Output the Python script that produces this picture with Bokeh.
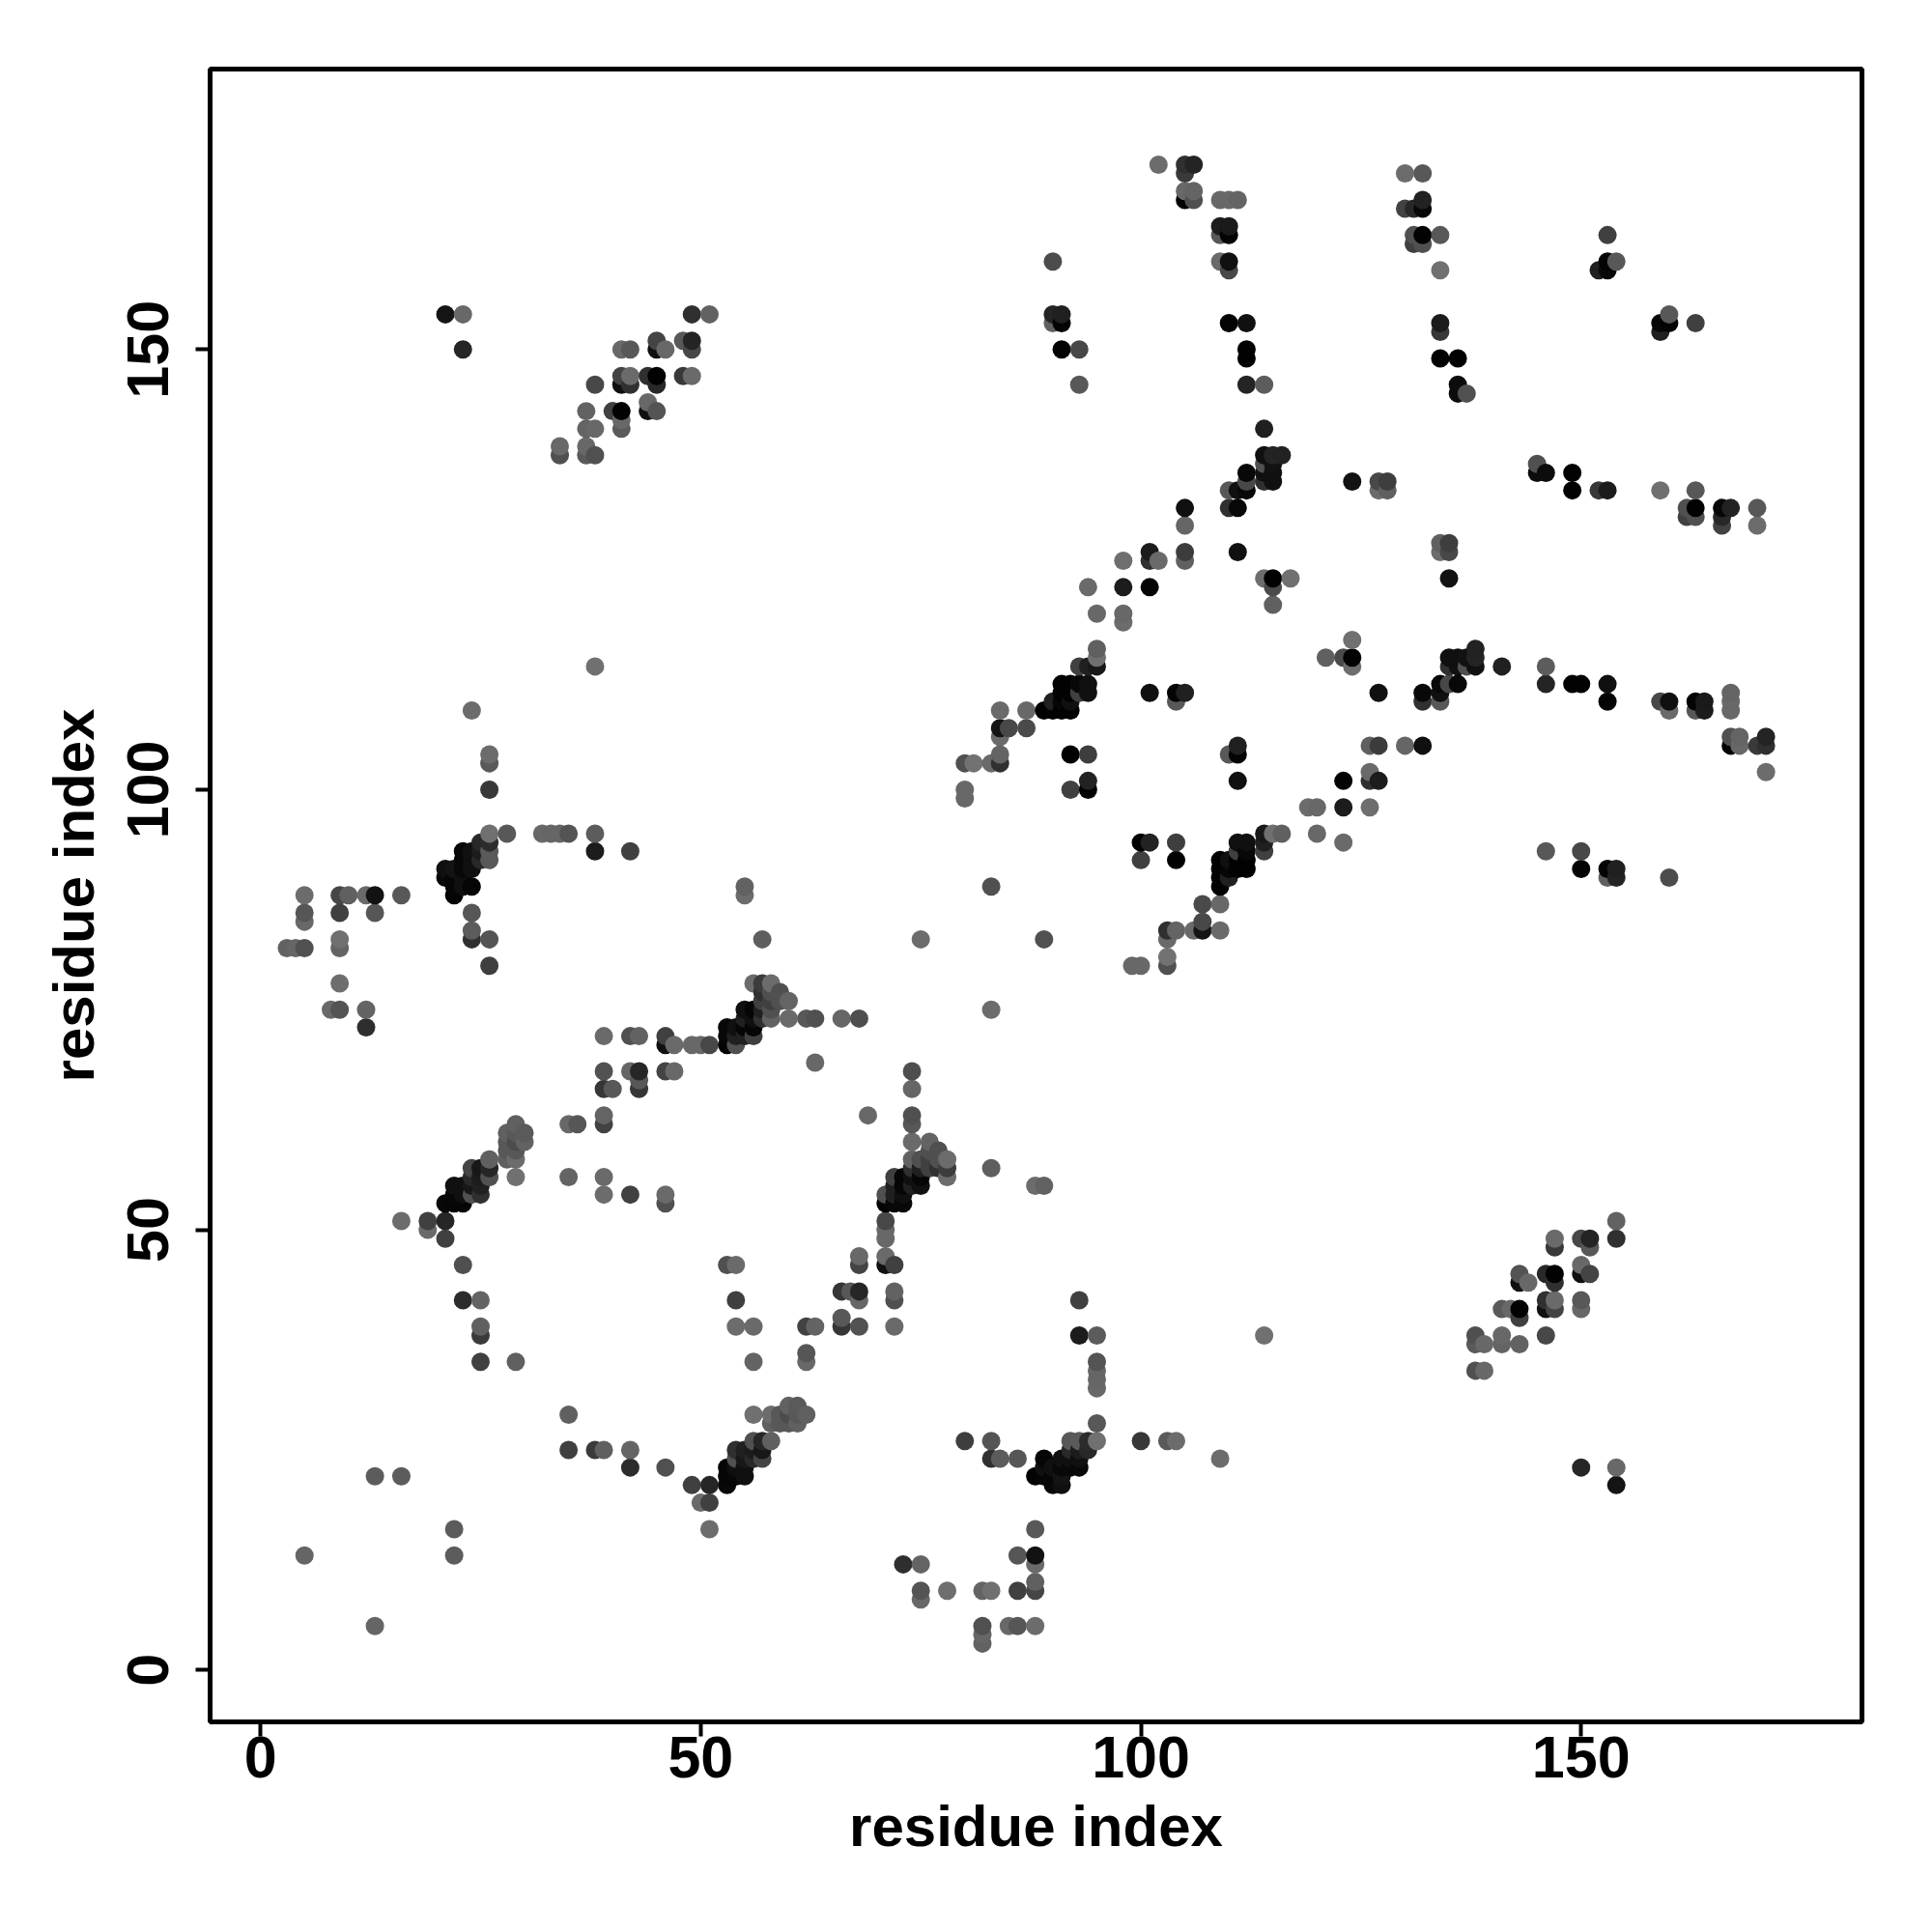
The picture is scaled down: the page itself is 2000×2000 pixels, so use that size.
from bokeh.plotting import figure
from bokeh.embed import file_html
from bokeh.resources import INLINE
from bokeh.models import Range1d, FixedTicker, ColumnDataSource

# residue contacts: residue -> (partner residue, grey level of the contact)
c03=[(82,0x62)]
c04=[(82,0x66)]
c05=[(13,0x65),(82,0x50),(85,0x68),(86,0x56),(88,0x6c)]
c08=[(75,0x68)]
c09=[(75,0x54),(78,0x6e),(82,0x64),(83,0x70),(86,0x40),(88,0x46)]
c10=[(88,0x60)]
c12=[(73,0x2e),(75,0x64),(88,0x6a)]
c13=[(22,0x5c),(86,0x56),(88,0x12)]
c16=[(22,0x5c),(51,0x6c),(88,0x58)]
c19=[(50,0x6a),(51,0x40)]
c21=[(49,0x40),(51,0x26),(53,0x08),(90,0x08),(91,0x10),(154,0x14)]
c22=[(53,0x06),(54,0x08),(55,0x10),(88,0x04),(89,0x06),(90,0x06),(91,0x14)]
c23=[(42,0x2c),(46,0x50),(53,0x06),(54,0x10),(55,0x10),(89,0x10),(90,0x10),(91,0x08),(92,0x08),(93,0x08),(150,0x26),(154,0x68)]
c24=[(54,0x50),(55,0x18),(56,0x28),(57,0x44),(83,0x30),(84,0x5c),(86,0x56),(89,0x06),(91,0x10),(92,0x10),(93,0x10),(109,0x6c)]
c25=[(35,0x40),(38,0x3a),(39,0x60),(42,0x64),(54,0x30),(55,0x20),(56,0x1c),(57,0x18),(92,0x28),(93,0x1c),(94,0x28)]
c26=[(56,0x50),(57,0x26),(58,0x60),(80,0x3e),(83,0x54),(92,0x58),(93,0x5a),(94,0x2c),(95,0x70),(100,0x38),(103,0x5a),(104,0x6c)]
c28=[(58,0x60),(59,0x58),(60,0x58),(61,0x60),(95,0x58)]
c29=[(35,0x60),(56,0x70),(58,0x6c),(59,0x58),(60,0x4c),(61,0x58),(62,0x60)]
c30=[(60,0x62),(61,0x5a)]
c32=[(95,0x68)]
c33=[(95,0x66)]
c34=[(95,0x66),(138,0x50),(139,0x68)]
c35=[(56,0x64),(62,0x68),(95,0x54)]
c36=[(62,0x56)]
c37=[(138,0x5a),(139,0x68),(141,0x64),(143,0x62)]
c38=[(93,0x1c),(95,0x5c),(114,0x70),(138,0x50),(141,0x68),(146,0x48)]
c39=[(54,0x6c),(56,0x6a),(62,0x42),(63,0x64),(66,0x36),(68,0x52),(72,0x6a)]
c40=[(66,0x58),(143,0x40)]
c41=[(141,0x5a),(142,0x68),(143,0x02),(146,0x10),(147,0x44),(150,0x68)]
c42=[(54,0x40),(68,0x66),(72,0x50),(93,0x40),(146,0x30),(147,0x6a),(150,0x58)]
c43=[(66,0x36),(67,0x58),(68,0x26),(72,0x62)]
c44=[(143,0x10),(144,0x68),(147,0x30)]
c45=[(143,0x54),(146,0x28),(147,0x02),(150,0x10),(151,0x44)]
c46=[(53,0x50),(54,0x6a),(68,0x44),(71,0x10),(72,0x40),(150,0x68)]
c47=[(68,0x68),(71,0x6a)]
c48=[(147,0x38),(151,0x58)]
c49=[(71,0x68),(147,0x6a),(150,0x48),(151,0x24),(154,0x30)]
c50=[(71,0x68)]
c51=[(71,0x48),(154,0x62)]
c53=[(71,0x04),(72,0x08),(73,0x08)]
c54=[(71,0x50),(72,0x20),(73,0x10)]
c55=[(72,0x20),(73,0x06),(74,0x20),(75,0x10),(88,0x6c),(89,0x62)]
c56=[(72,0x40),(73,0x06),(74,0x10),(75,0x06),(78,0x6c)]
c57=[(74,0x30),(75,0x20),(76,0x40),(77,0x30),(78,0x3c),(83,0x5e)]
c58=[(74,0x62),(75,0x50),(76,0x40),(77,0x50),(78,0x6c)]
c59=[(76,0x50),(77,0x50)]
c60=[(74,0x6a),(76,0x64)]
c62=[(74,0x58)]
c63=[(69,0x68),(74,0x50)]
c66=[(74,0x66)]
c68=[(74,0x4e)]
c75=[(83,0x6c)]
c80=[(99,0x68),(100,0x68),(103,0x50)]
c81=[(103,0x72)]
c83=[(89,0x50),(103,0x6a)]
c84=[(103,0x30),(104,0x64),(106,0x6a),(107,0x14),(109,0x6a)]
c85=[(107,0x48)]
c87=[(107,0x4a),(109,0x68)]
c89=[(109,0x02)]
c90=[(109,0x02),(110,0x20),(153,0x60),(154,0x24),(160,0x4c)]
c91=[(109,0x02),(110,0x06),(111,0x02),(112,0x02),(150,0x04),(153,0x04),(154,0x20)]
c92=[(100,0x40),(104,0x02),(109,0x02),(110,0x10),(111,0x02),(112,0x02)]
c93=[(111,0x40),(112,0x08),(114,0x40),(146,0x58),(150,0x48)]
c94=[(100,0x02),(101,0x22),(104,0x3e),(111,0x10),(112,0x10),(114,0x20),(123,0x6a)]
c95=[(114,0x18),(115,0x70),(116,0x60),(120,0x68)]
c98=[(119,0x6c),(120,0x68),(123,0x1c),(126,0x6e)]
c101=[(111,0x10),(123,0x04),(126,0x30),(127,0x1c)]
c102=[(126,0x6a),(171,0x6c)]
c104=[(110,0x58),(111,0x04)]
c105=[(111,0x20),(126,0x60),(127,0x3c),(130,0x66),(132,0x10),(167,0x02),(168,0x68),(170,0x3a),(171,0x30)]
c106=[(167,0x50),(168,0x64),(171,0x24)]
c109=[(160,0x6a),(163,0x58),(164,0x1c),(167,0x68)]
c110=[(132,0x30),(134,0x58),(153,0x04),(159,0x48),(160,0x10),(163,0x04),(164,0x1a),(167,0x68)]
c111=[(127,0x10),(132,0x08),(134,0x10),(167,0x64)]
c112=[(134,0x08),(135,0x48),(136,0x08),(146,0x24),(149,0x02),(150,0x02),(153,0x10)]
c114=[(124,0x6e),(135,0x30),(136,0x10),(137,0x50),(138,0x10),(141,0x20),(146,0x5c)]
c115=[(121,0x60),(123,0x4a),(124,0x02),(135,0x10),(136,0x10),(137,0x12),(138,0x24)]
c116=[(138,0x22)]
c117=[(124,0x70)]
c124=[(135,0x12)]
c127=[(134,0x6c),(135,0x48)]
c128=[(134,0x60),(135,0x3e)]
c130=[(166,0x42),(170,0x6c)]
c131=[(162,0x40),(163,0x50),(166,0x28)]
c132=[(162,0x50),(163,0x02),(166,0x08),(167,0x22),(170,0x58)]
c134=[(149,0x02),(152,0x38),(153,0x1c),(159,0x70),(163,0x58)]
c136=[(145,0x0c),(146,0x0c),(149,0x02)]
c137=[(145,0x50)]
c152=[(159,0x20)]
c153=[(159,0x08),(160,0x04),(163,0x40)]
c154=[(160,0x58)]

x_ticks = [0, 50, 100, 150]
y_ticks = [0, 50, 100, 150]
x_title = "residue index"
y_title = "residue index"

points = []
for name, rows in list(globals().items()):
    if name[0] == "c" and name[1:].isdigit():
        res = int(name[1:])
        for other, grey in rows:
            points.append((res, other, grey))
            points.append((other, res, grey))
points.sort()
source = ColumnDataSource(dict(
    x=[a for a, _, _ in points],
    y=[b for _, b, _ in points],
    color=["#%02x%02x%02x" % (g, g, g) for _, _, g in points],
))

W, H = 1984, 1984
p = figure(width=W, height=H, output_backend="svg", toolbar_location=None,
           x_range=Range1d(-5.72, 181.9), y_range=Range1d(-5.9, 181.86),
           min_border_left=217, min_border_right=57, min_border_top=71, min_border_bottom=202)
p.scatter("x", "y", source=source, size=19, color="color", line_color=None)

p.grid.visible = False
p.outline_line_color = "black"
p.outline_line_width = 5
p.background_fill_color = "white"
p.border_fill_color = "white"

FONT = "Liberation Sans"
for ax, ticks, title in ((p.xaxis[0], x_ticks, x_title), (p.yaxis[0], y_ticks, y_title)):
    ax.ticker = FixedTicker(ticks=ticks)
    ax.axis_label = title
    ax.axis_label_text_font = FONT
    ax.axis_label_text_font_style = "bold"
    ax.axis_label_text_font_size = "60px"
    ax.axis_label_text_color = "black"
    ax.major_label_text_font = FONT
    ax.major_label_text_font_style = "bold"
    ax.major_label_text_font_size = "61px"
    ax.major_label_text_color = "black"
    ax.axis_line_color = None
    ax.major_tick_line_color = "black"
    ax.major_tick_line_width = 4
    ax.major_tick_in = 0
    ax.major_tick_out = 15
    ax.minor_tick_line_color = None
p.xaxis[0].major_label_standoff = 0
p.xaxis[0].axis_label_standoff = 14
p.yaxis[0].major_label_orientation = "vertical"
p.yaxis[0].major_label_standoff = 28
p.yaxis[0].axis_label_standoff = 20

open("out.html", "w").write(file_html(p, INLINE))
